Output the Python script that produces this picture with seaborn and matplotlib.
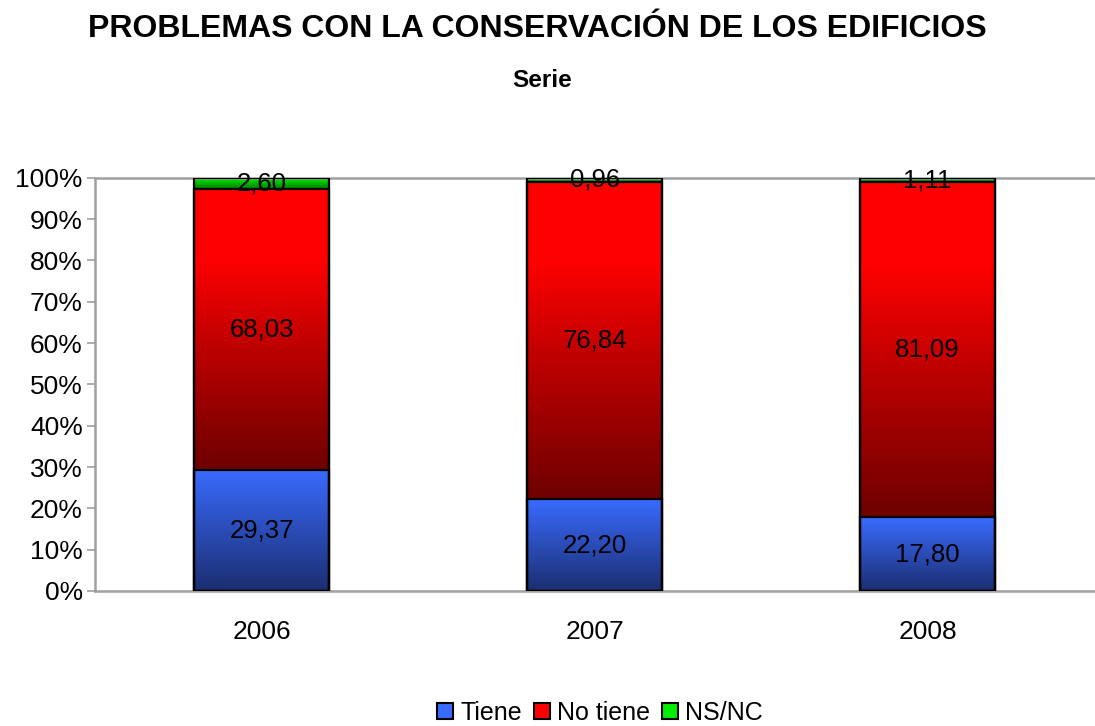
import numpy as np
import pandas as pd
import seaborn as sns
import matplotlib.pyplot as plt
from matplotlib.colors import LinearSegmentedColormap
from matplotlib.patches import Patch

# data
years = ["2006", "2007", "2008"]
tiene = [29.37, 22.20, 17.80]
no_tiene = [68.03, 76.84, 81.09]
nsnc = [2.60, 0.96, 1.11]
series_names = ["Tiene", "No tiene", "NS/NC"]
y_ticks = [0, 10, 20, 30, 40, 50, 60, 70, 80, 90, 100]

sns.set_style("white")
plt.rcParams['font.family'] = ['Liberation Sans', 'DejaVu Sans']
plt.rcParams['text.color'] = 'black'
plt.rcParams['xtick.labelcolor'] = 'black'
plt.rcParams['ytick.labelcolor'] = 'black'

df = pd.DataFrame({"year": years, "Tiene": tiene, "No tiene": no_tiene, "NS/NC": nsnc})
df["c1"] = df["Tiene"]
df["c2"] = df["Tiene"] + df["No tiene"]
df["c3"] = df["c2"] + df["NS/NC"]

# gradient colours (top, bottom)
grads = {
    "Tiene": ("#3a6bff", "#1b2e70"),
    "No tiene": ("#ff0000", "#6e0000"),
    "NS/NC": ("#00ee00", "#007a00"),
}

fig = plt.figure(figsize=(10.95, 7.26), dpi=100)
ax = fig.add_axes([0.087, 0.186, 0.912, 0.569])

# stacked bars drawn as cumulative totals, largest first
layers = [("c3", "NS/NC", "c2"), ("c2", "No tiene", "c1"), ("c1", "Tiene", None)]
grad = np.linspace(0, 1, 256).reshape(-1, 1)
for i, (col, name, base) in enumerate(layers):
    n_before = len(ax.patches)
    sns.barplot(data=df, x="year", y=col, ax=ax, width=0.405, color="white",
                edgecolor="black", linewidth=1.6, zorder=3)
    top_c, bot_c = grads[name]
    if name == "No tiene":
        cmap = LinearSegmentedColormap.from_list(name, [(0, bot_c), (0.45, "#c00000"), (0.75, top_c), (1, top_c)])
    else:
        cmap = LinearSegmentedColormap.from_list(name, [(0, bot_c), (1, top_c)])
    for j, p in enumerate(ax.patches[n_before:]):
        p.set_facecolor("none")
        x0 = p.get_x()
        w = p.get_width()
        y1 = p.get_y() + p.get_height()
        y0 = df[base].iloc[j] if base else 0
        ax.imshow(grad, cmap=cmap, origin="lower", aspect="auto",
                  extent=[x0, x0 + w, y0, y1], zorder=1 + i * 0.1)

# value labels
for j in range(len(years)):
    for name, lo, hi in [("Tiene", 0, df["c1"][j]), ("No tiene", df["c1"][j], df["c2"][j]),
                         ("NS/NC", df["c2"][j], df["c3"][j])]:
        v = df[name][j]
        ax.text(j, (lo + hi) / 2, f"{v:.2f}".replace(".", ","), ha="center", va="center",
                fontsize=18.5, color="black", zorder=5)

ax.set_xlim(-0.5, 2.5)
ax.set_ylim(0, 100)
ax.set_yticks(y_ticks)
ax.set_yticklabels([f"{v}%" for v in y_ticks], fontsize=19)
ax.set_xticks(range(len(years)))
ax.set_xticklabels(years, fontsize=19)
ax.set_xticks([-0.5, 0.5, 1.5, 2.5], minor=True)
ax.tick_params(axis="x", which="major", length=0, pad=21)
ax.tick_params(axis="x", which="minor", length=6, color="#a0a0a0", width=1.2, direction="out")
ax.tick_params(axis="y", length=6, color="#a0a0a0", width=1.2, direction="out", pad=3, left=True)
ax.set_xlabel("")
ax.set_ylabel("")
for s in ["left", "bottom", "top"]:
    ax.spines[s].set_visible(True)
    ax.spines[s].set_color("#a0a0a0")
    ax.spines[s].set_linewidth(1.8)
ax.spines["right"].set_visible(False)

fig.text(0.491, 0.96, "PROBLEMAS CON LA CONSERVACIÓN DE LOS EDIFICIOS", ha="center", va="center",
         fontsize=23, fontweight="bold", color="black")
fig.text(0.495, 0.889, "Serie", ha="center", va="center", fontsize=17.5, fontweight="bold", color="black")

handles = [Patch(facecolor=grads[n][0], edgecolor="black", linewidth=1.5) for n in series_names]
fig.legend(handles, series_names, loc="center", bbox_to_anchor=(0.548, 0.018), ncol=3,
           frameon=False, fontsize=18, handlelength=0.65, handleheight=0.65,
           handletextpad=0.3, columnspacing=0.45)

fig.savefig("out.png", dpi=100)
